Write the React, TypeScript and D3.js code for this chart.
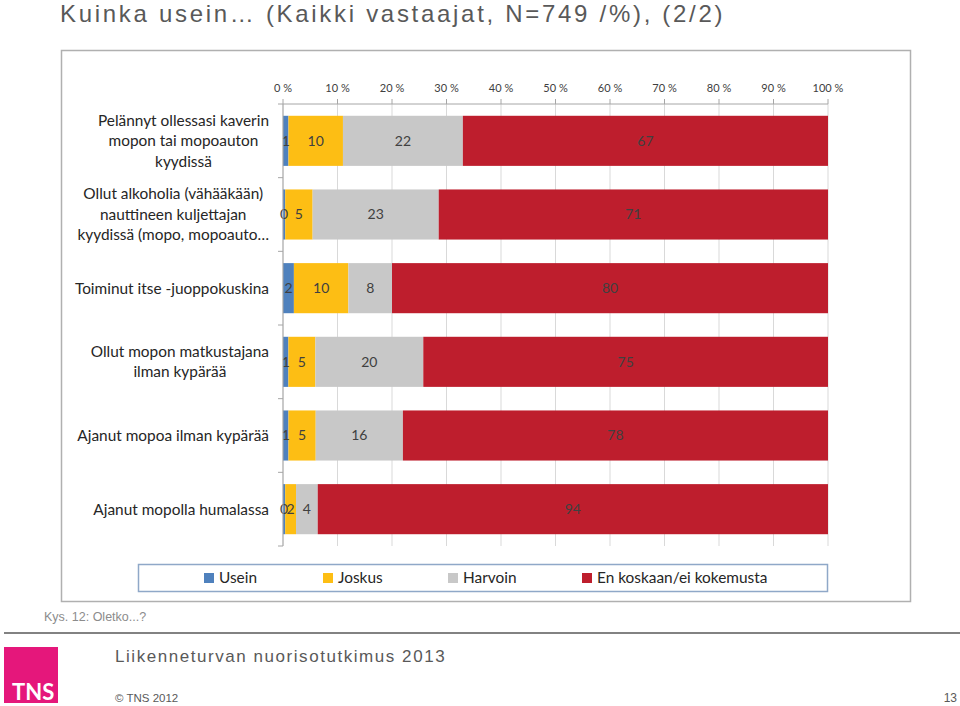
import React from "react";
import * as d3 from "d3";

const categories = [
  ["Pelännyt ollessasi kaverin", "mopon tai mopoauton", "kyydissä"],
  ["Ollut alkoholia (vähääkään)", "nauttineen kuljettajan", "kyydissä (mopo, mopoauto…"],
  ["Toiminut itse -juoppokuskina"],
  ["Ollut mopon matkustajana", "ilman kypärää"],
  ["Ajanut mopoa ilman kypärää"],
  ["Ajanut mopolla humalassa"],
];
const seriesNames = ["Usein", "Joskus", "Harvoin", "En koskaan/ei kokemusta"];
const usein = [1, 0.4, 2, 1, 1, 0.4];
const joskus = [10, 5, 10, 5, 5, 2];
const harvoin = [22, 23, 8, 20, 16, 4];
const enKoskaan = [67, 71, 80, 75, 78, 94];
const colors = ["#4F81BD", "#FDBE14", "#C8C8C8", "#BE1E2D"];
const xTicks = [0, 10, 20, 30, 40, 50, 60, 70, 80, 90, 100];

const labelFont = "Lato, 'Open Sans', sans-serif";
const sansFont = "'Liberation Sans', Arial, sans-serif";

function measure(text: string, font: string): number {
  const c = document.createElement("canvas");
  const ctx = c.getContext("2d")!;
  ctx.font = font;
  return ctx.measureText(text).width;
}

export default function App() {
  const series = [usein, joskus, harvoin, enKoskaan];
  const x = d3.scaleLinear().domain([0, 100]).range([283, 828]);
  const y = d3
    .scaleBand<number>()
    .domain(categories.map((_, i) => i))
    .range([104, 546])
    .paddingInner(0.32)
    .paddingOuter(0.16);

  const rows = categories.map((_, i) => {
    const vals = series.map((s) => s[i]);
    const total = d3.sum(vals);
    let acc = 0;
    return vals.map((v, k) => {
      const x0 = (acc / total) * 100;
      acc += v;
      const x1 = (acc / total) * 100;
      return { k, v, x0, x1 };
    });
  });

  const step = y.step();
  const boundaries = d3.range(categories.length + 1).map((i) => 104 + i * step);
  const catSize = 15.4;

  return (
    <svg width={960} height={706} style={{ position: "absolute", left: 0, top: 0, display: "block" }}>
      <rect x={0} y={0} width={960} height={706} fill="#fff" />
      <text x={60} y={22} fontFamily={sansFont} fontSize={24} fill="#595959" letterSpacing={2.7}>
        Kuinka usein… (Kaikki vastaajat, N=749 /%), (2/2)
      </text>
      <rect x={61.5} y={50.5} width={849} height={551} fill="none" stroke="#B0B0B0" strokeWidth={1.5} />

      {/* gridlines */}
      {xTicks.map((t) => (
        <line key={"g" + t} x1={x(t)} x2={x(t)} y1={104} y2={546} stroke="#D9D9D9" strokeWidth={1} />
      ))}

      {/* bars */}
      {rows.map((segs, i) =>
        segs.map((s) => (
          <rect
            key={i + "-" + s.k}
            x={x(s.x0)}
            y={y(i)!}
            width={Math.max(0, x(s.x1) - x(s.x0))}
            height={y.bandwidth()}
            fill={colors[s.k]}
          />
        ))
      )}

      {/* value labels */}
      {rows.map((segs, i) =>
        segs.map((s) => (
          <text
            key={"l" + i + "-" + s.k}
            x={(x(s.x0) + x(s.x1)) / 2}
            y={y(i)! + y.bandwidth() / 2}
            dy="0.35em"
            textAnchor="middle"
            fontFamily={labelFont}
            fontSize={14}
            fill="#404040"
          >
            {Math.round(s.v)}
          </text>
        ))
      )}

      {/* top axis */}
      <line x1={x(0)} x2={x(100)} y1={104} y2={104} stroke="#A6A6A6" />
      {xTicks.map((t) => (
        <g key={"t" + t}>
          <line x1={x(t)} x2={x(t)} y1={99} y2={104} stroke="#A6A6A6" />
          <text x={x(t)} y={92} textAnchor="middle" fontFamily={labelFont} fontSize={11} fill="#404040">
            {t} %
          </text>
        </g>
      ))}

      {/* left axis */}
      <line x1={x(0)} x2={x(0)} y1={104} y2={546} stroke="#A6A6A6" />
      {boundaries.map((b, i) => (
        <line key={"b" + i} x1={x(0) - 5} x2={x(0)} y1={b} y2={b} stroke="#A6A6A6" />
      ))}

      {/* category labels */}
      {categories.map((lines, i) => {
        const font = `${catSize}px ${labelFont}`;
        const maxW = d3.max(lines, (l) => measure(l, font)) || 0;
        const cx = 269 - maxW / 2;
        const cy = y(i)! + y.bandwidth() / 2;
        const lh = 20.5;
        return (
          <text key={"c" + i} fontFamily={labelFont} fontSize={catSize} fill="#262626" textAnchor="middle">
            {lines.map((l, j) => (
              <tspan key={j} x={cx} y={cy + (j - (lines.length - 1) / 2) * lh} dy="0.35em">
                {l}
              </tspan>
            ))}
          </text>
        );
      })}

      {/* legend */}
      <rect x={138.5} y={564.5} width={689} height={27} fill="#fff" stroke="#8FA8C8" strokeWidth={1.5} />
      {seriesNames.map((n, k) => {
        const lx = [204, 323, 448, 582][k];
        return (
          <g key={"lg" + k}>
            <rect x={lx} y={573} width={10} height={10} fill={colors[k]} />
            <text x={lx + 15} y={578} dy="0.35em" fontFamily={labelFont} fontSize={catSize} fill="#262626">
              {n}
            </text>
          </g>
        );
      })}

      {/* footer */}
      <text x={44} y={621} fontFamily={sansFont} fontSize={12.5} fill="#8C8C8C">
        Kys. 12: Oletko...?
      </text>
      <line x1={4} x2={960} y1={633} y2={633} stroke="#595959" strokeWidth={1.5} />
      <rect x={4} y={647} width={54} height={56} fill="#E5177B" />
      <text x={12} y={700} fontFamily={labelFont} fontWeight="bold" fontSize={22} fill="#fff">
        TNS
      </text>
      <text x={115} y={662} fontFamily={sansFont} fontSize={17} fill="#595959" letterSpacing={1.55}>
        Liikenneturvan nuorisotutkimus 2013
      </text>
      <text x={115} y={702} fontFamily={sansFont} fontSize={11.5} fill="#595959">
        © TNS 2012
      </text>
      <text x={957} y={702} textAnchor="end" fontFamily={sansFont} fontSize={12} fill="#595959">
        13
      </text>
    </svg>
  );
}
